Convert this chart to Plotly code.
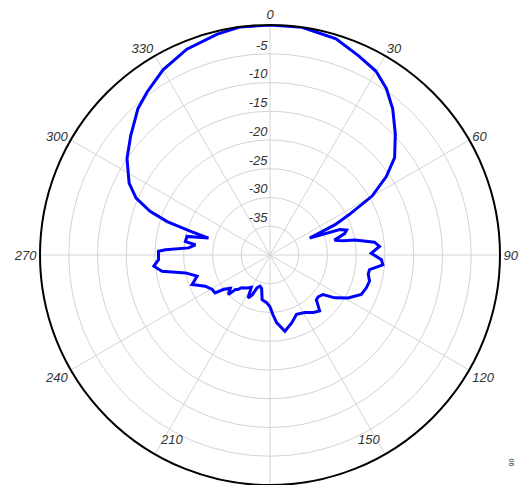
import math
import plotly.graph_objects as go

# Radiation pattern (degrees, dB)
angle_deg = [0, 8, 17, 24, 30, 35, 40, 46, 52, 56, 60, 63, 65, 67, 70, 72, 74, 77, 79, 80,
             83, 85.5, 89, 92.4, 95, 98.4, 101, 104.7, 108.8, 113.4, 118.8, 123.5, 126.7,
             131, 134, 138.4, 143, 148.9, 155.9, 162.3, 168.9, 174.4, 177, 180, 184, 190,
             194, 197.7, 201.5, 204, 207, 210, 215, 220.6, 223, 225.2, 226.4, 230, 233.4,
             235.4, 239.2, 244.3, 249.2, 253.8, 258, 261.4, 264.5, 267.6, 271.9, 272.9,
             275, 277.8, 279, 282.6, 285.4, 286.7, 288, 290, 293, 297, 304, 310.6, 318,
             323, 330, 338, 346.6, 352.6, 360]
gain_db = [0, 0, -0.7, -2.1, -3.1, -4.7, -6.8, -9.7, -12.5, -15.6, -19.5, -24.6, -27.5, -32.5,
           -27.1, -26.0, -26.5, -28.5, -27.0, -25.0,
           -21.7, -20.9, -22.4, -20.6, -20.3, -22.5, -22.6, -22.1, -22.3, -22.7, -24.5,
           -26.5, -28.5, -28.9, -28.8, -27.0, -27.5, -28.3, -28.7, -27.6, -26.5, -28.2,
           -29.5, -31.0, -31.7, -32.1, -34.0, -34.3, -33.9, -32.4, -31.6, -33.5, -33.0,
           -32.5, -31.8, -31.5, -30.0, -31.0, -30.0, -28.4, -28.3, -27.5, -25.5, -26.8,
           -25.0, -21.0, -19.7, -20.6, -20.6, -21.8, -25.8, -26.9, -25.1, -25.2, -28.9,
           -25.5, -21.2, -17.8, -14.7, -12.5, -10.0, -8.1, -5.7, -4.5, -2.8, -1.4, -0.5,
           0, 0]

radial_ticks = [-35, -30, -25, -20, -15, -10, -5, 0]
radial_labels = ["-35", "-30", "-25", "-20", "-15", "-10", "-5", ""]
angular_ticks = [0, 30, 60, 90, 120, 150, 180, 210, 240, 270, 300, 330]
angular_labels = ["0", "30", "60", "90", "120", "", "", "", "240", "270", "300", "330"]
# labels that sit inside the ring near the cropped bottom edge
inner_labels = ["210", "150"]
inner_label_angles = [210, 150]

fig = go.Figure()
fig.add_trace(go.Scatterpolar(
    r=gain_db, theta=angle_deg, mode="lines",
    line=dict(color="#0000FF", width=3), showlegend=False, hoverinfo="skip"))

label_font = dict(family="Liberation Sans", size=13, color="#333333", style="italic")

cx, cy, rad = 270, 256, 231
fig.update_layout(
    width=527, height=485, autosize=False,
    margin=dict(l=0, r=0, t=0, b=0),
    paper_bgcolor="white", plot_bgcolor="white",
    polar=dict(
        domain=dict(x=[(cx - rad) / 527, (cx + rad) / 527], y=[0, 1 - (cy - rad) / 485]),
        bgcolor="white",
        radialaxis=dict(
            range=[-40, 0], tickvals=radial_ticks,
            # blank second line lifts each label just above its ring
            ticktext=[f"{t}<br>&nbsp;" if t else "" for t in radial_labels],
            angle=90, side="counterclockwise", tickangle=90,
            showline=False, ticks="", gridcolor="#d4d4d4", gridwidth=1,
            tickfont=label_font),
        angularaxis=dict(
            rotation=90, direction="clockwise",
            tickvals=angular_ticks, ticktext=angular_labels,
            ticks="", showline=True, linecolor="black", linewidth=2,
            gridcolor="#d4d4d4", gridwidth=1, tickfont=label_font),
    ),
)

for txt, a in zip(inner_labels, inner_label_angles):
    d = 223
    px = cx + d * math.sin(math.radians(a))
    py = cy - d * math.cos(math.radians(a))
    fig.add_annotation(text=txt, x=px / 527, y=1 - py / 485, xref="paper", yref="paper",
                       showarrow=False, font=label_font)

fig.add_annotation(text="06", x=517 / 527, y=1 - 468 / 485, xref="paper", yref="paper",
                   showarrow=False, textangle=90,
                   font=dict(family="Liberation Sans", size=7, color="#333333"))

fig.write_html("out.html", config={"displayModeBar": False},
               post_script="document.body.style.margin='0';document.body.style.padding='0';")
